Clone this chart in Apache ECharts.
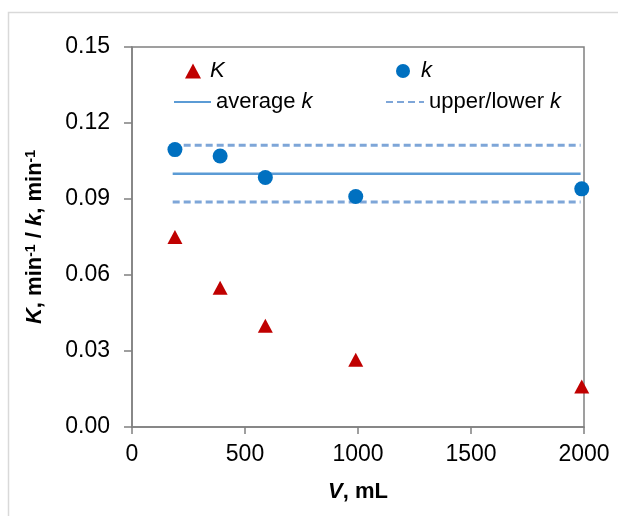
<!DOCTYPE html>
<html>
<head>
<meta charset="utf-8">
<script src="https://cdn.jsdelivr.net/npm/echarts@6/dist/echarts.min.js"></script>
<style>
  html, body { margin: 0; padding: 0; background: #fff; }
  #chart { width: 618px; height: 516px; }
</style>
</head>
<body>
<div id="chart"></div>
<script>
// volumes (mL) and rate constants
const volumes = [190, 390, 590, 990, 1990]
const bigK = [0.075, 0.055, 0.040, 0.0265, 0.016]
const smallK = [0.1095, 0.107, 0.0985, 0.091, 0.094]
const lineRange = [180, 1985]
const avgK = 0.100
const upperK = 0.1112
const lowerK = 0.0888
const xTicks = { min: 0, max: 2000, interval: 500 }
const yTicks = { min: 0, max: 0.15, interval: 0.03 }

const font = "'Liberation Sans', Arial, sans-serif"
const axisGray = '#808080'

const pairs = (ys) => volumes.map((v, i) => [v, ys[i]])
const flat = (y) => lineRange.map(x => [x, y])

const chart = echarts.init(document.getElementById('chart'))

const legendBase = {
  orient: 'horizontal',
  textStyle: { fontFamily: font, fontSize: 22, color: '#000',
    rich: { i: { fontStyle: 'italic', fontFamily: font, fontSize: 22, color: '#000' } } },
  selectedMode: false
}

chart.setOption({
  animation: false,
  graphic: [
    {
      type: 'rect',
      shape: { x: 8.5, y: 12.5, width: 700, height: 600 },
      style: { fill: 'none', stroke: '#d9d9d9', lineWidth: 1.5 },
      silent: true
    }
  ],
  grid: {
    left: 132, right: 34, top: 47, bottom: 89,
    show: true, borderColor: axisGray, borderWidth: 1.5
  },
  legend: [
    Object.assign({}, legendBase, {
      data: ['K'], left: 180, top: 55, itemWidth: 16, itemHeight: 15,
      formatter: () => '{i|K}', textStyle: Object.assign({}, legendBase.textStyle, { padding: [0, 0, 0, 4] })
    }),
    Object.assign({}, legendBase, {
      data: ['k'], left: 391, top: 55, itemWidth: 14, itemHeight: 14,
      formatter: () => '{i|k}', textStyle: Object.assign({}, legendBase.textStyle, { padding: [0, 0, 0, 6] })
    }),
    Object.assign({}, legendBase, {
      data: [{ name: 'average k', itemStyle: { opacity: 0 } }], left: 168, top: 86, itemWidth: 37, itemHeight: 14,
      formatter: () => 'average {i|k}'
    }),
    Object.assign({}, legendBase, {
      data: [{ name: 'upper/lower k', itemStyle: { opacity: 0 } }], left: 380, top: 86, itemWidth: 38, itemHeight: 14,
      formatter: () => 'upper/lower {i|k}'
    })
  ],
  xAxis: {
    type: 'value',
    min: xTicks.min, max: xTicks.max, interval: xTicks.interval,
    name: '{bi|V}{b|, mL}',
    nameLocation: 'middle',
    nameGap: 54,
    nameTextStyle: {
      rich: {
        bi: { fontFamily: font, fontSize: 22, fontWeight: 'bold', fontStyle: 'italic', color: '#000' },
        b: { fontFamily: font, fontSize: 22, fontWeight: 'bold', color: '#000' }
      }
    },
    axisLine: { show: true, onZero: false, lineStyle: { color: axisGray, width: 1.5 } },
    axisTick: { show: true, inside: false, length: 7, lineStyle: { color: axisGray, width: 1.5 } },
    axisLabel: { fontFamily: font, fontSize: 23, color: '#000', margin: 16, formatter: (v) => String(v) },
    splitLine: { show: false }
  },
  yAxis: {
    type: 'value',
    min: yTicks.min, max: yTicks.max, interval: yTicks.interval,
    name: '{bi|K}{b|, min}{sup|-1}{b| / }{bi|k}{b|, min}{sup|-1}',
    nameLocation: 'middle',
    nameRotate: 90,
    nameGap: 84,
    nameTextStyle: {
      rich: {
        bi: { fontFamily: font, fontSize: 22, fontWeight: 'bold', fontStyle: 'italic', color: '#000', lineHeight: 26 },
        b: { fontFamily: font, fontSize: 22, fontWeight: 'bold', color: '#000', lineHeight: 26 },
        sup: { fontFamily: font, fontSize: 14, fontWeight: 'bold', color: '#000', verticalAlign: 'bottom', padding: [0, 0, 10, 0], lineHeight: 26 }
      }
    },
    axisLine: { show: true, lineStyle: { color: axisGray, width: 1.5 } },
    axisTick: { show: true, inside: false, length: 8, lineStyle: { color: axisGray, width: 1.5 } },
    axisLabel: {
      fontFamily: font, fontSize: 23, color: '#000', margin: 22,
      formatter: (v) => v.toFixed(2)
    },
    splitLine: { show: false }
  },
  series: [
    {
      name: 'average k',
      type: 'line',
      data: flat(avgK),
      symbol: 'none',
      lineStyle: { color: '#5b9bd5', width: 2.5 },
      itemStyle: { color: '#5b9bd5' },
      z: 2
    },
    {
      name: 'upper/lower k',
      type: 'line',
      data: flat(upperK),
      symbol: 'none',
      lineStyle: { color: '#7ea6d8', width: 3, type: [7, 4] },
      itemStyle: { color: '#7ea6d8' },
      z: 2
    },
    {
      name: 'upper/lower k',
      type: 'line',
      data: flat(lowerK),
      symbol: 'none',
      lineStyle: { color: '#7ea6d8', width: 3, type: [7, 4] },
      itemStyle: { color: '#7ea6d8' },
      z: 2
    },
    {
      name: 'K',
      type: 'scatter',
      data: pairs(bigK),
      symbol: 'triangle',
      symbolSize: [15, 14],
      itemStyle: { color: '#c00000', opacity: 1 },
      z: 3
    },
    {
      name: 'k',
      type: 'scatter',
      data: pairs(smallK),
      symbol: 'circle',
      symbolSize: 15,
      itemStyle: { color: '#0070c0', opacity: 1 },
      z: 3
    }
  ]
})
</script>
</body>
</html>
